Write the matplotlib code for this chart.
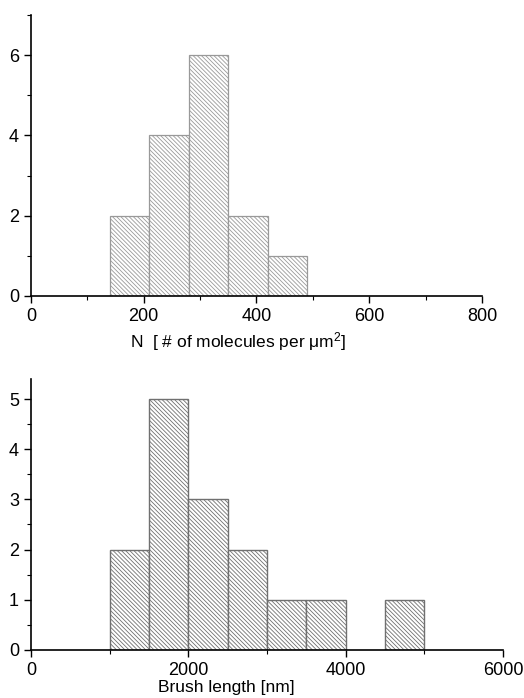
import numpy as np
import matplotlib.pyplot as plt
from matplotlib.ticker import MultipleLocator

plt.rcParams['font.family'] = ['Liberation Sans', 'DejaVu Sans']
plt.rcParams['hatch.linewidth'] = 0.6
plt.rcParams['hatch.color'] = '#808080'

# Top histogram: grafting density
top_edges = [140, 210, 280, 350, 420]
top_width = 70
top_counts = [2, 4, 6, 2, 1]

# Bottom histogram: brush length
bot_edges = [1000, 1500, 2000, 2500, 3000, 3500, 4500]
bot_width = 500
bot_counts = [2, 5, 3, 2, 1, 1, 1]

fig = plt.figure(figsize=(5.24, 6.98), dpi=100)
ax1 = fig.add_axes([0.059, 0.576, 0.861, 0.4025])
ax2 = fig.add_axes([0.059, 0.069, 0.901, 0.388])

hatch = '\\' * 8
ax1.bar(top_edges, top_counts, width=top_width, align='edge', color='white',
        edgecolor='#999999', linewidth=0.9, hatch=hatch)
ax2.bar(bot_edges, bot_counts, width=bot_width, align='edge', color='white',
        edgecolor='#707070', linewidth=1.0, hatch=hatch)

ax1.set_xlim(0, 800)
ax1.set_ylim(0, 7)
ax1.xaxis.set_major_locator(MultipleLocator(200))
ax1.xaxis.set_minor_locator(MultipleLocator(100))
ax1.yaxis.set_major_locator(MultipleLocator(2))
ax1.yaxis.set_minor_locator(MultipleLocator(1))

ax2.set_xlim(0, 6000)
ax2.set_ylim(0, 5.4)
ax2.xaxis.set_major_locator(MultipleLocator(2000))
ax2.xaxis.set_minor_locator(MultipleLocator(1000))
ax2.yaxis.set_major_locator(MultipleLocator(1))
ax2.yaxis.set_minor_locator(MultipleLocator(0.5))

for ax in (ax1, ax2):
    ax.spines['top'].set_visible(False)
    ax.spines['right'].set_visible(False)
    ax.spines['left'].set_linewidth(1.2)
    ax.spines['bottom'].set_linewidth(1.2)
    ax.tick_params(which='major', direction='out', length=5, width=1, labelsize=13, pad=3.5)
    ax.tick_params(which='minor', direction='out', length=3, width=0.8)

ax1.set_xlabel(r'N  [ # of molecules per $\mathregular{\mu m^2}$]', fontsize=12.5)
ax1.xaxis.set_label_coords(0.46, -0.12)
ax2.set_xlabel('Brush length [nm]', fontsize=12.5)
ax2.xaxis.set_label_coords(0.413, -0.11)

fig.savefig('out.png', dpi=100)
